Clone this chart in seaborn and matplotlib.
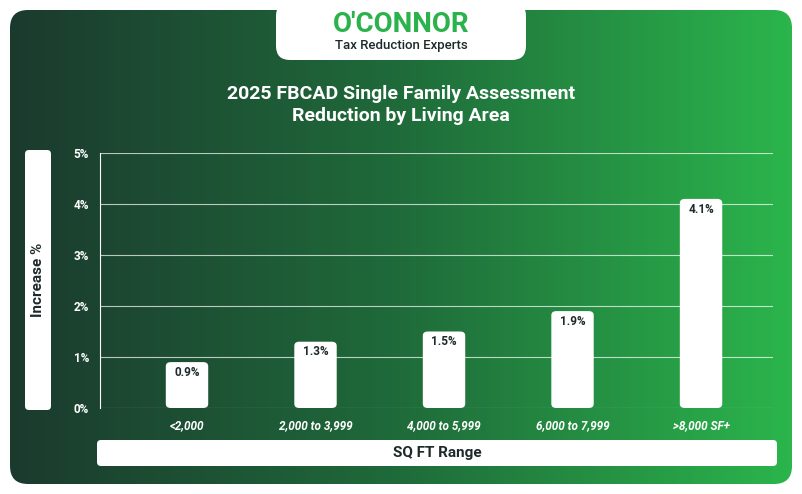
import numpy as np
import pandas as pd
import matplotlib
matplotlib.use("Agg")
import matplotlib.pyplot as plt
import seaborn as sns
from matplotlib.patches import FancyBboxPatch
from matplotlib.colors import LinearSegmentedColormap

categories = ["<2,000", "2,000 to 3,999", "4,000 to 5,999", "6,000 to 7,999", ">8,000 SF+"]
values = [0.9, 1.3, 1.5, 1.9, 4.1]
yticks = [0, 1, 2, 3, 4, 5]

W, H = 802, 494
fig = plt.figure(figsize=(W/100, H/100), dpi=100)
fig.patch.set_facecolor("white")

def fx(x): return x / W
def fy(y): return 1 - y / H

# gradient background
bg = fig.add_axes([0, 0, 1, 1])
bg.set_xlim(0, W); bg.set_ylim(H, 0); bg.axis("off")
cmap = LinearSegmentedColormap.from_list("g", ["#1b3a2e", "#1f6b3a", "#2bb54c"])
grad = np.linspace(0, 1, 256)[None, :]
im = bg.imshow(grad, cmap=cmap, extent=[10, 792, 484, 10], aspect="auto")
clip = FancyBboxPatch((10, 10), 782, 474, boxstyle="round,pad=0,rounding_size=18",
                      transform=bg.transData, facecolor="none", edgecolor="none")
bg.add_patch(clip)
im.set_clip_path(clip)
# logo tab
bg.add_patch(FancyBboxPatch((276, 2), 250, 58, boxstyle="round,pad=0,rounding_size=14",
                            facecolor="white", edgecolor="none"))
bg.text(401, 24, "O'CONNOR", ha="center", va="center", fontsize=20, fontweight="bold",
        color="#2bb24c", family="Roboto")
bg.text(401, 46, "Tax Reduction Experts", ha="center", va="center", fontsize=9.5,
        color="#1e2a2a", family="Roboto", fontweight="medium")
bg.text(401, 105, "2025 FBCAD Single Family Assessment\nReduction by Living Area", ha="center",
        va="center", fontsize=14, fontweight="bold", color="white", family="Roboto",
        linespacing=1.35)
# y label box
bg.add_patch(FancyBboxPatch((25, 150), 26, 260, boxstyle="round,pad=0,rounding_size=4",
                            facecolor="white", edgecolor="none"))
bg.text(38, 280, "Increase %", rotation=90, ha="center", va="center", fontsize=11,
        fontweight="bold", color="#1e2a2a", family="Roboto")
# x label box
bg.add_patch(FancyBboxPatch((97, 440), 680, 26, boxstyle="round,pad=0,rounding_size=4",
                            facecolor="white", edgecolor="none"))
bg.text(437, 453, "SQ FT Range", ha="center", va="center", fontsize=11,
        fontweight="bold", color="#1e2a2a", family="Roboto")

ax = fig.add_axes([fx(100), fy(408), fx(773) - fx(100), fy(153) - fy(408)])
ax.patch.set_alpha(0)
df = pd.DataFrame({"cat": categories, "val": values})
sns.barplot(data=df, x="cat", y="val", color="white", width=0.33, ax=ax, saturation=1)
for p in list(ax.patches):
    x0, y0, w, h = p.get_x(), p.get_y(), p.get_width(), p.get_height()
    p.remove()
    ax.add_patch(FancyBboxPatch((x0, y0), w, h, boxstyle="round,pad=0,rounding_size=0.04",
                                mutation_aspect=h and 2.0 / 1 or 1, facecolor="white",
                                edgecolor="none", zorder=3))
for i, v in enumerate(values):
    ax.text(i, v - 0.2, f"{v}%", ha="center", va="center", fontsize=8.5,
            fontweight="bold", color="#1e2a2a", family="Roboto", zorder=4)
ax.set_xlim(-0.677, 4.56)
ax.set_ylim(0, 5)
ax.set_yticks(yticks)
ax.set_yticklabels([f"{t}%" for t in yticks], color="white", fontsize=8.5,
                   fontweight="bold", family="Roboto")
ax.set_xticks(range(len(categories)))
ax.set_xticklabels(categories, color="white", fontsize=8.5, fontweight="bold",
                   style="italic", family="Roboto")
ax.tick_params(length=0, pad=8)
ax.grid(axis="y", color="white", alpha=0.7, linewidth=0.8, zorder=0)
ax.set_axisbelow(True)
for s in ["top", "right", "bottom"]:
    ax.spines[s].set_visible(False)
ax.spines["left"].set_color("white")
ax.set_xlabel(""); ax.set_ylabel("")
fig.savefig("out.png", dpi=100)
